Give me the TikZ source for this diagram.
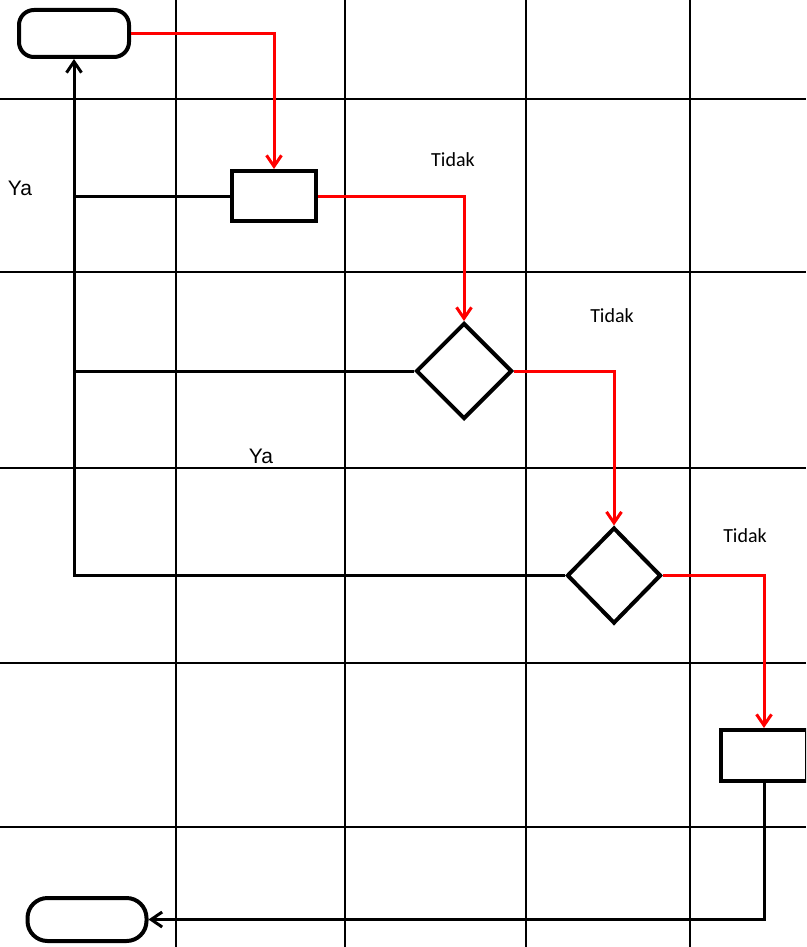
\documentclass[tikz,border=0pt]{standalone}
\usepackage{fontspec}
\setmainfont{Carlito}
\newfontfamily\yafont{Liberation Sans}
\usetikzlibrary{shapes.geometric,arrows.meta,positioning}
\definecolor{flowred}{HTML}{FF0000}
\tikzset{
  terminal/.style={
    draw,
    fill=white,
    rounded corners=15pt,
    line width=4pt,
    minimum width=110pt,
    minimum height=47pt,
    inner sep=0pt
  },
  process/.style={
    draw,
    fill=white,
    line width=4pt,
    minimum width=84pt,
    minimum height=50pt,
    inner sep=0pt
  },
  decision/.style={
    diamond,
    draw,
    fill=white,
    line width=4pt,
    minimum width=96pt,
    minimum height=96pt,
    inner sep=0pt
  },
  gridline/.style={
    line width=2.2pt
  },
  flow/.style={
    -{Straight Barb[length=11pt,width=15pt]},
    line width=3pt,
    draw=flowred
  },
  back/.style={
    -{Straight Barb[length=11pt,width=15pt]},
    line width=3pt
  },
  link/.style={
    line width=3pt
  },
  answer/.style={
    font=\fontsize{20}{24}\selectfont,
    inner sep=0pt
  },
  yes/.style={
    font=\yafont\fontsize{21}{25}\selectfont,
    inner sep=0pt
  }
}

\begin{document}
\begin{tikzpicture}[x=1pt,y=-1pt]
  \useasboundingbox (0,0) rectangle (806,947);
  \clip (0,0) rectangle (806,947);

  % lane grid
  \foreach \gx in {176,345,526,690}
    \draw[gridline] (\gx,0) -- (\gx,947);
  \foreach \gy in {99,272,468,663,827}
    \draw[gridline] (0,\gy) -- (806,\gy);

  % flow symbols
  \node[terminal] (start) at (74,33.5) {};
  \node[process] (task) at (274,196) {};
  \node[decision] (check) at (464,371) {};
  \node[decision, minimum width=94pt, minimum height=96pt] (recheck) at (614,575.5) {};
  \node[process, minimum width=86pt, minimum height=51pt] (finish) at (764,755.5) {};
  \node[terminal, rounded corners=20pt, minimum width=119pt, minimum height=43pt] (stop) at (87,919.5) {};

  % red path
  \draw[flow] (start.east) -| (task.north);
  \draw[flow] (task.east) -| (check.north);
  \draw[flow] (check.east) -| (recheck.north);
  \draw[flow] (recheck.east) -| (finish.north);

  % black returns
  \draw[back] (finish.south) |- (stop.east);
  \draw[back] (recheck.west) -| (start.south);
  \draw[link] (task.west) -- (task.west -| start.south);
  \draw[link] (check.west) -- (check.west -| start.south);

  % answers
  \node[yes] (ya1) at (20,188) {Ya};
  \node[yes] (ya2) at (261,456) {Ya};
  \node[answer] (tidak1) at (453,160) {Tidak};
  \node[answer] (tidak2) at (612,316) {Tidak};
  \node[answer] (tidak3) at (745,536) {Tidak};
\end{tikzpicture}
\end{document}
